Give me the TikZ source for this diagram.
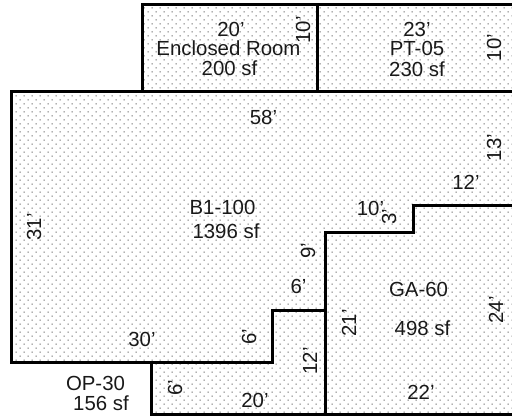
\documentclass[tikz,border=0pt]{standalone}
\usepackage{fontspec}
\setmainfont{Liberation Sans}
\usetikzlibrary{patterns}
\pgfdeclarepatternformonly{floordots}{\pgfqpoint{-1pt}{-1pt}}{\pgfqpoint{7pt}{7pt}}{\pgfqpoint{8pt}{8pt}}{
  \pgfpathrectangle{\pgfqpoint{-0.5pt}{-0.5pt}}{\pgfqpoint{1pt}{1pt}}
  \pgfpathrectangle{\pgfqpoint{3.5pt}{3.5pt}}{\pgfqpoint{1pt}{1pt}}
  \pgfusepath{fill}
}
\tikzset{
  wall/.style={line width=3pt,line cap=butt,line join=miter,black},
  lbl/.style={inner sep=0pt,font=\fontsize{20.4}{24}\selectfont,text=black!90},
  vlbl/.style={lbl,rotate=90}
}
\begin{document}
\begin{tikzpicture}[x=1pt,y=-1pt]
\useasboundingbox (0,0) rectangle (512,416);
% dotted floor
\fill[pattern=floordots,pattern color=black!72]
  (142,4.5) -- (512,4.5) -- (512,414) -- (151.5,414) -- (151.5,362) -- (11,362) -- (11,91.5) -- (142,91.5) -- cycle;
% walls
\draw[wall] (142,91.5) -- (142,4.5) -- (512,4.5);
\draw[wall] (317,4.5) -- (317,91.5);
\draw[wall] (512,91.5) -- (11,91.5) -- (11,362) -- (272.5,362) -- (272.5,310) -- (325,310);
\draw[wall] (151.5,362) -- (151.5,414) -- (512,414);
\draw[wall] (325,414) -- (325,232) -- (413,232) -- (413,205) -- (512,205);
% labels
\node[lbl] (a1) at (231,29) {20'};
\node[lbl] (a2) at (228.5,48) {Enclosed Room};
\node[lbl] (a3) at (229.5,68) {200 sf};
\node[vlbl] (a4) at (303,30) {10'};
\node[lbl] (b1) at (417,29) {23'};
\node[lbl] (b2) at (417,48) {PT-05};
\node[lbl] (b3) at (417,69) {230 sf};
\node[vlbl] (b4) at (494,47.5) {10'};
\node[lbl] (c1) at (263.5,117) {58'};
\node[vlbl] (c2) at (494,147.5) {13'};
\node[lbl] (c3) at (466,182) {12'};
\node[lbl] (c4) at (370.5,208) {10'};
\node[vlbl] (c5) at (389,217) {3'};
\node[lbl] (c6) at (222.5,207) {B1-100};
\node[lbl] (c7) at (226,231) {1396 sf};
\node[vlbl] (c8) at (34,227) {31'};
\node[vlbl] (c9) at (308,251) {9'};
\node[lbl] (c10) at (298.5,286) {6'};
\node[vlbl] (c11) at (249,337) {6'};
\node[lbl] (c12) at (142,339) {30'};
\node[lbl] (d1) at (418.5,289) {GA-60};
\node[lbl] (d2) at (422.5,328) {498 sf};
\node[vlbl] (d3) at (349,323) {21'};
\node[vlbl] (d4) at (496,310) {24'};
\node[lbl] (d5) at (421,392) {22'};
\node[vlbl] (e1) at (310,361) {12'};
\node[vlbl] (e2) at (175,388) {6'};
\node[lbl] (e3) at (255,400) {20'};
\node[lbl] (f1) at (95.5,383) {OP-30};
\node[lbl] (f2) at (101,403) {156 sf};
\end{tikzpicture}
\end{document}
